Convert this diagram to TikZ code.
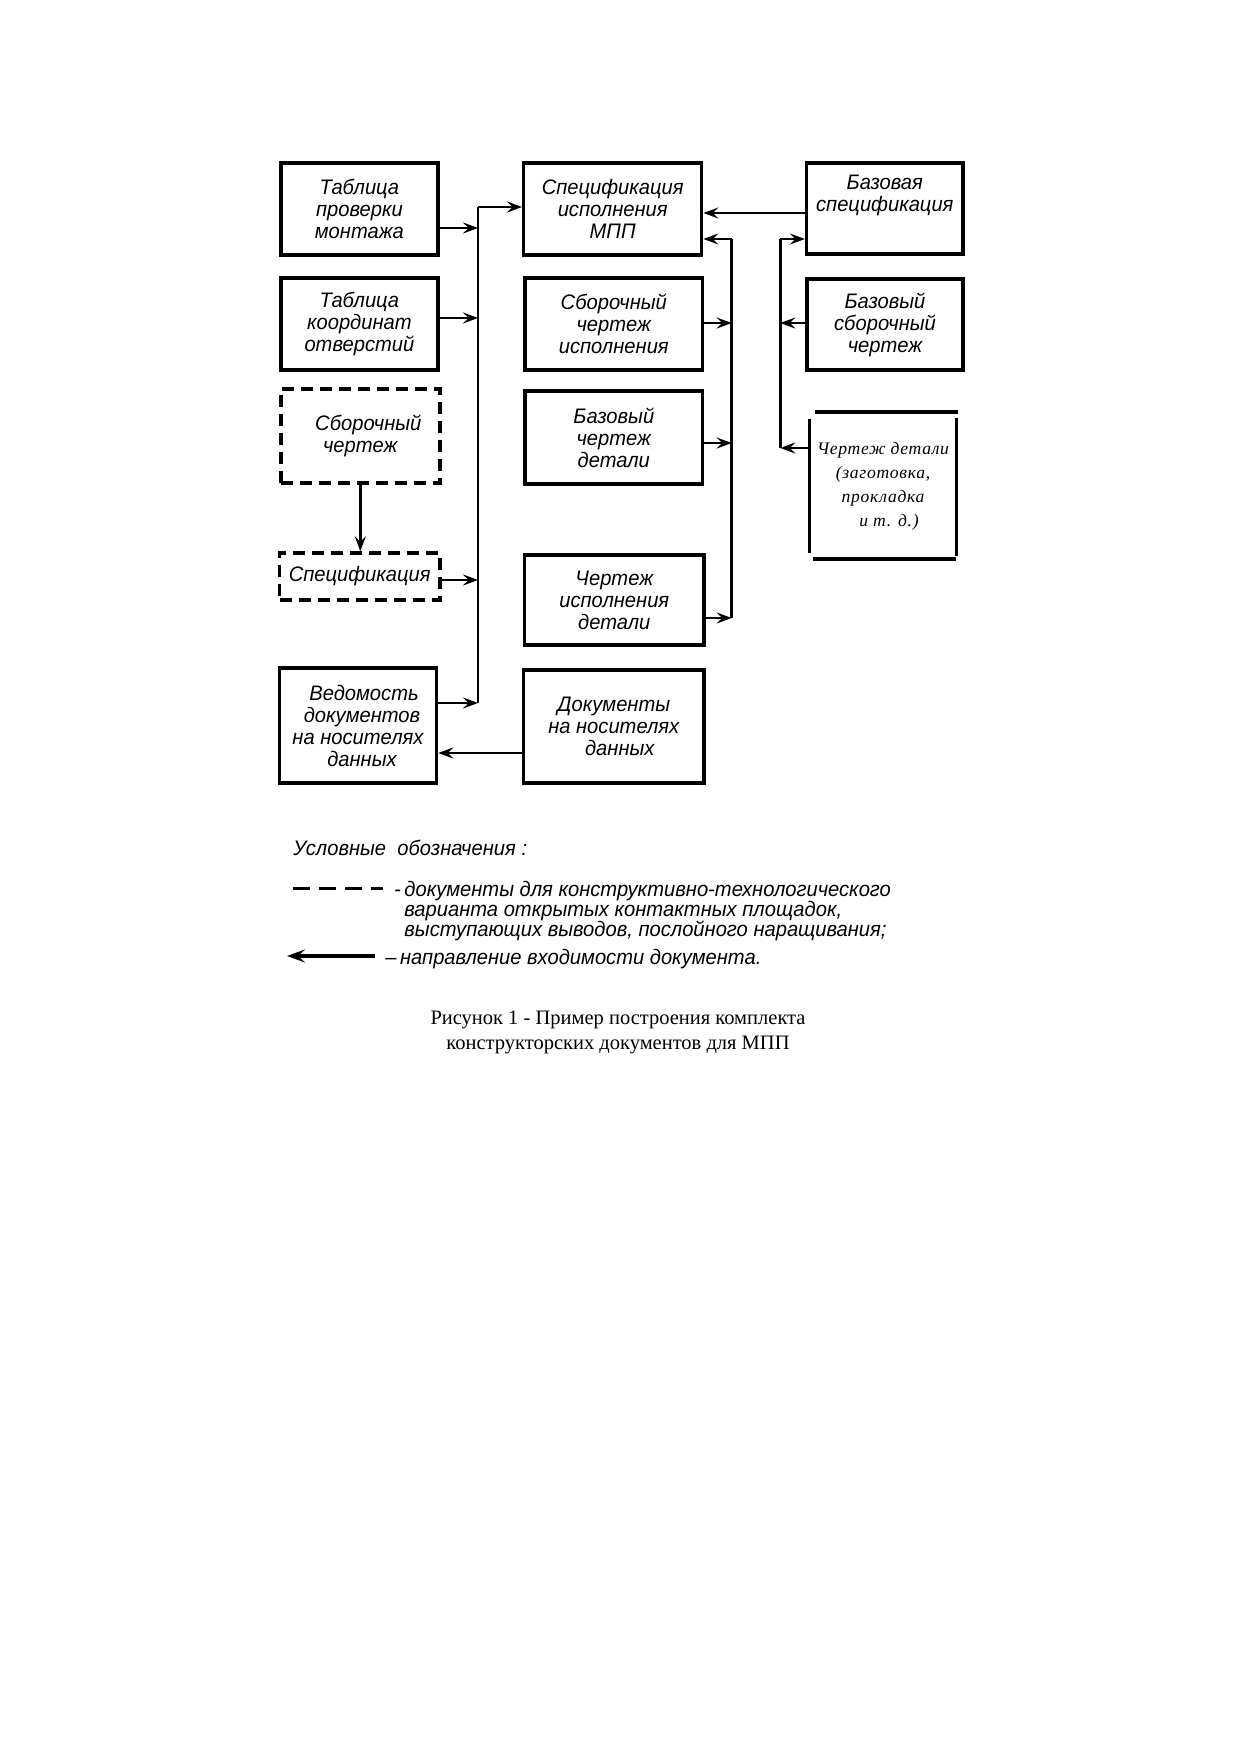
\documentclass[tikz,border=0pt]{standalone}
\usepackage{fontspec}
\setmainfont{Liberation Serif}
\newfontfamily\gost[FakeStretch=0.96]{Liberation Sans}
\newfontfamily\detfont[LetterSpace=4]{Liberation Serif}
\usetikzlibrary{arrows.meta,calc}
\newcommand\gostfont{\gost\itshape\fontsize{10.5}{11}\selectfont}
\begin{document}
\begin{tikzpicture}[x=0.5pt,y=-0.5pt,
  box/.style={draw,line width=1.7pt,inner sep=0pt,align=center,font=\gostfont},
  dbox/.style={box,dash pattern=on 6pt off 3.5pt},
  conn/.style={line width=1.4pt},
  arr/.style={conn,-{Stealth[length=7.5pt,width=5.5pt,inset=2.8pt]}},
  bigarr/.style={line width=1.6pt,-{Stealth[length=9pt,width=6.5pt,inset=3.5pt]}},
  heavy/.style={line width=2pt},
  side/.style={line width=1.6pt},
  legend/.style={inner sep=0pt,font=\gost\itshape\fontsize{10.5}{10}\selectfont,align=left}]
\useasboundingbox (0,0) rectangle (1240,1755);
% boxes
\node[box,minimum width=78.6pt,minimum height=46pt] (A) at (359.4,209) {Таблица\\проверки\\монтажа};
\node[box,minimum width=89pt,minimum height=46pt] (B) at (612.7,209) {Спецификация\\исполнения\\МПП};
\node[box,minimum width=78.2pt,minimum height=45.5pt] (C) at (884.8,208.5) {Базовая\\спецификация\\[4pt]~};
\node[box,minimum width=78.6pt,minimum height=46pt] (D) at (359.4,324) {Таблица\\координат\\отверстий};
\node[box,minimum width=88.8pt,minimum height=46pt] (E) at (613.8,324) {Сборочный\\чертеж\\исполнения};
\node[box,minimum width=78pt,minimum height=45.5pt] (F) at (885,324.5) {Базовый\\сборочный\\чертеж};
\node[dbox,minimum width=79.5pt,minimum height=47pt] (G) at (360.3,436) {\hspace*{8pt}Сборочный\\чертеж};
\node[box,minimum width=88.8pt,minimum height=46.5pt] (H) at (613.8,437.5) {Базовый\\чертеж\\детали};
\node[inner sep=0pt,minimum width=73pt,minimum height=73pt,align=center,
      font=\detfont\itshape\fontsize{8.8}{12}\selectfont] (I) at (883,486) {Чертеж детали\\(заготовка,\\прокладка\\\hspace*{6pt}и т. д.)};
\node[dbox,minimum width=80.2pt,minimum height=23.5pt] (J) at (359.7,576.5) {Спецификация};
\node[box,minimum width=89.7pt,minimum height=45pt] (K) at (614.3,600) {Чертеж\\исполнения\\детали};
\node[box,minimum width=78.6pt,minimum height=57.5pt] (L) at (358,725.5) {\hspace*{6pt}Ведомость\\\hspace*{4pt}документов\\на носителях\\\hspace*{4pt}данных};
\node[box,minimum width=90.2pt,minimum height=56.5pt] (M) at (613.8,726.5) {Документы\\на носителях\hspace*{10pt}\\\hspace*{6pt}данных};
% open frame of I
\draw[heavy] ($(I.north west)+(5,-1)$) -- ($(I.north east)+(2,-1)$);
\draw[side] ($(I.north west)+(0,6)$) -- ($(I.south west)+(0,-6)$);
\draw[side] ($(I.north east)+(0,5)$) -- ($(I.south east)+(0,-3)$);
\draw[heavy] ($(I.south west)+(3,0)$) -- ($(I.south east)+(0,0)$);
% bus coordinates
\coordinate (lbTop) at (478,207);
\coordinate (lbA) at (478,228);
\coordinate (lbD) at (478,318);
\coordinate (lbJ) at (478,580);
\coordinate (lbL) at (478,703);
\coordinate (mbTop) at (731.7,239);
\coordinate (mbE) at (731.7,323);
\coordinate (mbH) at (731.7,443);
\coordinate (mbK) at (731.7,618);
\coordinate (rbTop) at (780.3,239);
\coordinate (rbF) at (780.3,323);
\coordinate (rbI) at (780.3,448);
\coordinate (mL) at (523.6,753);
% left bus
\draw[conn] (lbL) -- (lbTop);
\draw[arr] (lbTop) -- (B.west |- lbTop);
\draw[arr] (A.east |- lbA) -- (lbA);
\draw[arr] (D.east |- lbD) -- (lbD);
\draw[arr] (J.east |- lbJ) -- (lbJ);
\draw[arr] (L.east |- lbL) -- (lbL);
% middle bus
\draw[conn] (mbK) -- (mbTop);
\draw[arr] (mbTop) -- (B.east |- mbTop);
\draw[arr] (E.east |- mbE) -- (mbE);
\draw[arr] (H.east |- mbH) -- (mbH);
\draw[arr] (K.east |- mbK) -- (mbK);
% right bus
\draw[conn] (rbI) -- (rbTop);
\draw[arr] (rbTop) -- (C.west |- rbTop);
\draw[arr] (F.west |- rbF) -- (rbF);
\draw[arr] (I.west |- rbI) -- (rbI);
% others
\draw[arr] ($(C.west)+(0,4.5)$) -- ($(C.west -| B.east)+(0,4.5)$);
\draw[arr] (G.south) -- (G.south |- J.north);
\draw[arr] (M.west |- mL) -- (L.east |- mL);
% legend
\node[legend,anchor=west] (lgT) at (293,848) {Условные\ \ обозначения :};
\coordinate (lgD1) at (293,888);
\coordinate (lgD2) at (383,888);
\draw[line width=1.5pt,dash pattern=on 8.5pt off 4.5pt] (lgD1) -- (lgD2);
\node[legend,anchor=north west] (lgDT) at (404,881) {\llap{-\,}документы для конструктивно-технологического\\варианта открытых контактных площадок,\\выступающих выводов, послойного наращивания;};
\coordinate (lgA1) at (375,956);
\coordinate (lgA2) at (287,956);
\draw[bigarr] (lgA1) -- (lgA2);
\node[legend,anchor=west] (lgAT) at (385,959) {–\,направление входимости документа.};
% caption
\node[inner sep=0pt,align=center,font=\fontsize{10.25}{12.5}\selectfont] (cap) at (618,1032) {Рисунок 1 - Пример построения комплекта\\конструкторских документов для МПП};
\end{tikzpicture}
\end{document}
